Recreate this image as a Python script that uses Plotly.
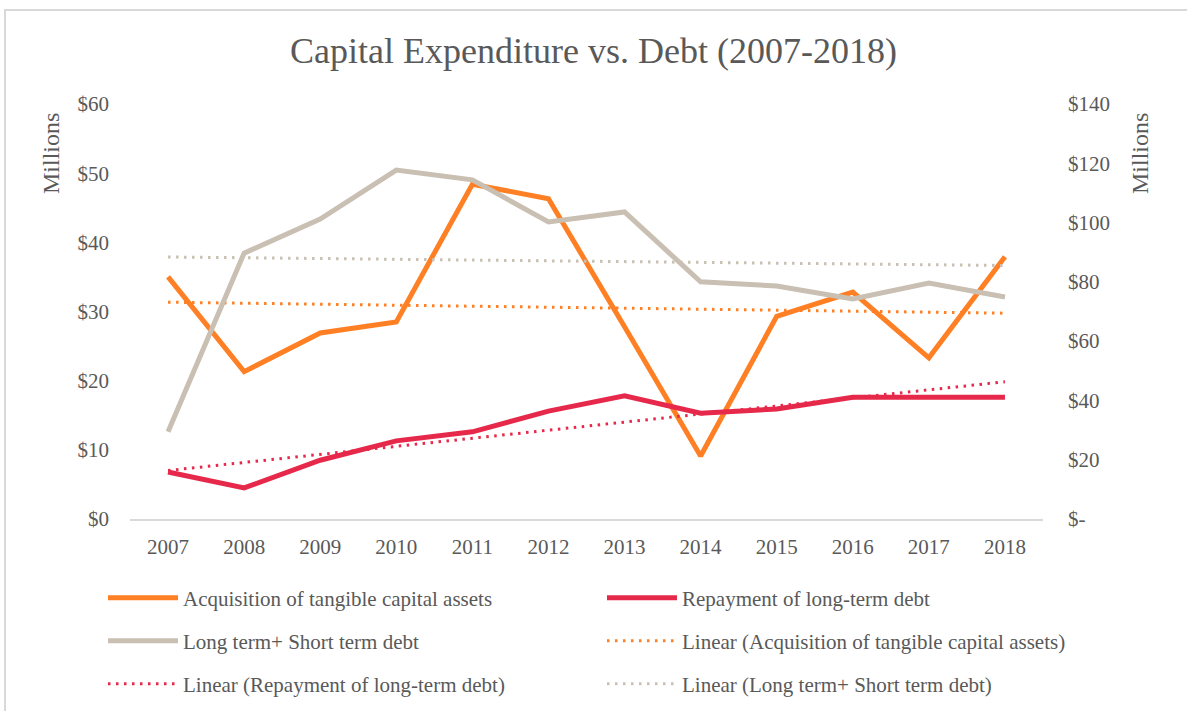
import numpy as np
import plotly.graph_objects as go

years = ["2007", "2008", "2009", "2010", "2011", "2012", "2013", "2014", "2015", "2016", "2017", "2018"]
acquisition = [35.0, 21.3, 26.9, 28.5, 48.4, 46.3, 27.8, 9.1, 29.3, 32.8, 23.3, 37.9]
repayment = [6.8, 4.5, 8.5, 11.3, 12.6, 15.6, 17.8, 15.3, 15.9, 17.6, 17.6, 17.6]
total_debt = [29.4, 89.7, 101.2, 117.7, 114.4, 100.2, 103.6, 80.0, 78.6, 74.2, 79.6, 74.9]

left_tickvals = [0, 10, 20, 30, 40, 50, 60]
left_ticktext = ["$0", "$10", "$20", "$30", "$40", "$50", "$60"]
right_tickvals = [0, 20, 40, 60, 80, 100, 120, 140]
right_ticktext = ["$-", "$20", "$40", "$60", "$80", "$100", "$120", "$140"]

ORANGE = "#FF7F24"
RED = "#E6294A"
GRAY = "#C9BFB2"
TEXT = "#595959"
FONT = "Liberation Serif"
DOT = "2.5px,5.5px"

PLOT_L, PLOT_R, PLOT_T, PLOT_B = 130, 1043, 104, 519
PW, PH = PLOT_R - PLOT_L, PLOT_B - PLOT_T


def px_x(p):
    return (p - PLOT_L) / PW


def px_y(p):
    return (PLOT_B - p) / PH


def linear_fit(vals):
    x = np.arange(len(vals))
    m, b = np.polyfit(x, np.array(vals, dtype=float), 1)
    return list(m * x + b)


fig = go.Figure()

fig.add_trace(go.Scatter(x=years, y=acquisition, name="Acquisition of tangible capital assets",
                         mode="lines", line=dict(color=ORANGE, width=5), legend="legend"))
fig.add_trace(go.Scatter(x=years, y=repayment, name="Repayment of long-term debt",
                         mode="lines", line=dict(color=RED, width=5), legend="legend2"))
fig.add_trace(go.Scatter(x=years, y=total_debt, name="Long term+ Short term debt",
                         mode="lines", line=dict(color=GRAY, width=5), yaxis="y2", legend="legend3"))
fig.add_trace(go.Scatter(x=years, y=linear_fit(acquisition), name="Linear (Acquisition of tangible capital assets)",
                         mode="lines", line=dict(color=ORANGE, width=3, dash=DOT), legend="legend4"))
fig.add_trace(go.Scatter(x=years, y=linear_fit(repayment), name="Linear (Repayment of long-term debt)",
                         mode="lines", line=dict(color=RED, width=3, dash=DOT), legend="legend5"))
fig.add_trace(go.Scatter(x=years, y=linear_fit(total_debt), name="Linear (Long term+ Short term debt)",
                         mode="lines", line=dict(color=GRAY, width=3, dash=DOT), yaxis="y2", legend="legend6"))

leg_common = dict(orientation="v", xanchor="left", yanchor="middle",
                  font=dict(family=FONT, size=21, color=TEXT),
                  itemwidth=70, bgcolor="rgba(0,0,0,0)")
col_x = [px_x(103), px_x(602)]
row_y = [px_y(598), px_y(641), px_y(684)]

fig.update_layout(
    width=1187, height=711,
    paper_bgcolor="white", plot_bgcolor="white",
    margin=dict(l=PLOT_L, r=1187 - PLOT_R, t=PLOT_T, b=711 - PLOT_B, autoexpand=False),
    font=dict(family=FONT, color=TEXT),
    title=dict(text="Capital Expenditure vs. Debt (2007-2018)", x=0.5, xanchor="center",
               y=1 - 50 / 711, yanchor="middle", font=dict(family=FONT, size=36, color=TEXT)),
    xaxis=dict(type="category", range=[-0.5, 11.5], showgrid=False, showline=True,
               linecolor="#D9D9D9", linewidth=2, ticks="", tickfont=dict(family=FONT, size=21, color=TEXT),
               ticklabelstandoff=8, zeroline=False),
    yaxis=dict(range=[0, 60], tickvals=left_tickvals, ticktext=left_ticktext, showgrid=False,
               showline=False, zeroline=False, tickfont=dict(family=FONT, size=21, color=TEXT),
               ticklabelstandoff=20),
    yaxis2=dict(range=[0, 140], tickvals=right_tickvals, ticktext=right_ticktext, overlaying="y",
                side="right", showgrid=False, showline=False, zeroline=False,
                tickfont=dict(family=FONT, size=21, color=TEXT), ticklabelstandoff=24),
    legend=dict(**leg_common, x=col_x[0], y=row_y[0]),
    legend2=dict(**leg_common, x=col_x[1], y=row_y[0]),
    legend3=dict(**leg_common, x=col_x[0], y=row_y[1]),
    legend4=dict(**leg_common, x=col_x[1], y=row_y[1]),
    legend5=dict(**leg_common, x=col_x[0], y=row_y[2]),
    legend6=dict(**leg_common, x=col_x[1], y=row_y[2]),
    showlegend=True,
)

fig.add_annotation(text="Millions", xref="paper", yref="paper", x=px_x(51), y=px_y(154),
                   textangle=-90, showarrow=False, xanchor="center", yanchor="middle",
                   font=dict(family=FONT, size=24, color=TEXT))
fig.add_annotation(text="Millions", xref="paper", yref="paper", x=px_x(1140), y=px_y(154),
                   textangle=-90, showarrow=False, xanchor="center", yanchor="middle",
                   font=dict(family=FONT, size=24, color=TEXT))

# chart border
fig.add_shape(type="rect", xref="paper", yref="paper",
              x0=px_x(5), x1=px_x(1200), y0=px_y(720), y1=px_y(10),
              line=dict(color="#D9D9D9", width=2), fillcolor="rgba(0,0,0,0)", layer="below")

fig.write_html("out.html", config={"displayModeBar": False},
               post_script="document.body.style.margin='0';")
